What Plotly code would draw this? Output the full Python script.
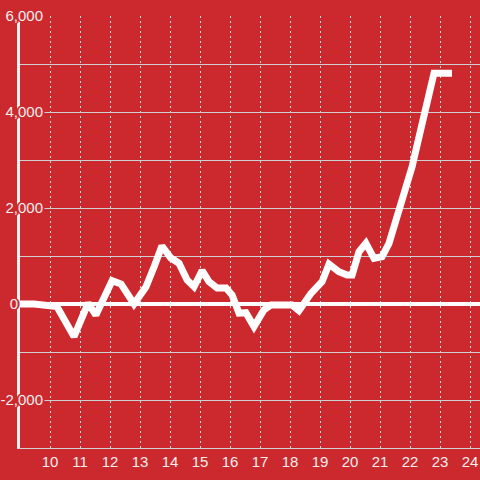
import plotly.graph_objects as go

# data
x_vals = [9.0, 9.47, 10.23, 10.8, 11.27, 11.53, 12.07, 12.37, 12.8, 13.2, 13.47, 13.73,
          14.03, 14.3, 14.57, 14.8, 15.07, 15.3, 15.57, 15.87, 16.07, 16.3, 16.53, 16.8,
          17.13, 17.37, 18.07, 18.3, 18.7, 18.97, 19.07, 19.3, 19.63, 19.9, 20.07, 20.3,
          20.53, 20.8, 21.07, 21.3, 21.53, 21.73, 21.9, 22.07, 22.3, 22.8, 23.4]
y_vals = [0, 0, -55, -680, 20, -230, 485, 415, 0, 360, 777, 1208,
          958, 850, 500, 360, 694, 465, 333, 333, 187, -190, -180, -470,
          -125, -20, -20, -140, 222, 396, 465, 833, 673, 604, 604, 1090,
          1264, 952, 986, 1264, 1715, 2097, 2444, 2861, 3480, 4806, 4806]

x_ticks = list(range(10, 25))
y_ticks = [-2000, 0, 2000, 4000, 6000]
y_ticktext = ["-2,000", "0" + "\u00a0" * 6, "2,000", "4,000", "6,000"]
y_minor = [-3000, -1000, 1000, 3000, 5000]

BG = "#cc292e"
TXT = "#f2eeee"
halo = ", ".join(f"{dx}px {dy}px 0 {BG}" for dx, dy in
                 [(1, 0), (-1, 0), (0, 1), (0, -1), (1, 1), (-1, -1), (1, -1), (-1, 1),
                  (2, 0), (-2, 0), (0, 2), (0, -2)])

fig = go.Figure(go.Scatter(x=x_vals, y=y_vals, mode="lines",
                           line=dict(color="#ffffff", width=7), hoverinfo="skip"))

fig.update_layout(
    width=480, height=480,
    margin=dict(l=20, r=0, t=16, b=32),
    paper_bgcolor=BG, plot_bgcolor=BG,
    showlegend=False,
    font=dict(family="Liberation Sans, Arial, sans-serif", size=15, color=TXT),
)
fig.update_xaxes(
    range=[9, 24.3333], tickvals=x_ticks, ticks="",
    showgrid=True, gridcolor="#dcdcdc", gridwidth=1, griddash="2px,3px",
    showline=True, linecolor="#d0d0d0", linewidth=1,
    zeroline=False, tickfont=dict(size=15, color=TXT), automargin=False,
)
fig.update_yaxes(
    range=[-3000, 6000], tickvals=y_ticks, ticktext=y_ticktext, ticks="",
    showgrid=True, gridcolor="#cfcfcf", gridwidth=1,
    minor=dict(tickvals=y_minor, showgrid=True, gridcolor="#cfcfcf", gridwidth=1, ticks=""),
    showline=True, linecolor="#f2f2f2", linewidth=3,
    zeroline=True, zerolinecolor="#ffffff", zerolinewidth=4,
    ticklabelstandoff=-29,
    tickfont=dict(size=15, color=TXT, shadow=halo), automargin=False,
)

fig.write_html(
    "out.html",
    config={"displayModeBar": False, "staticPlot": True},
    post_script="document.body.style.margin='0';document.body.style.overflow='hidden';"
                "document.body.style.background='" + BG + "';",
)
